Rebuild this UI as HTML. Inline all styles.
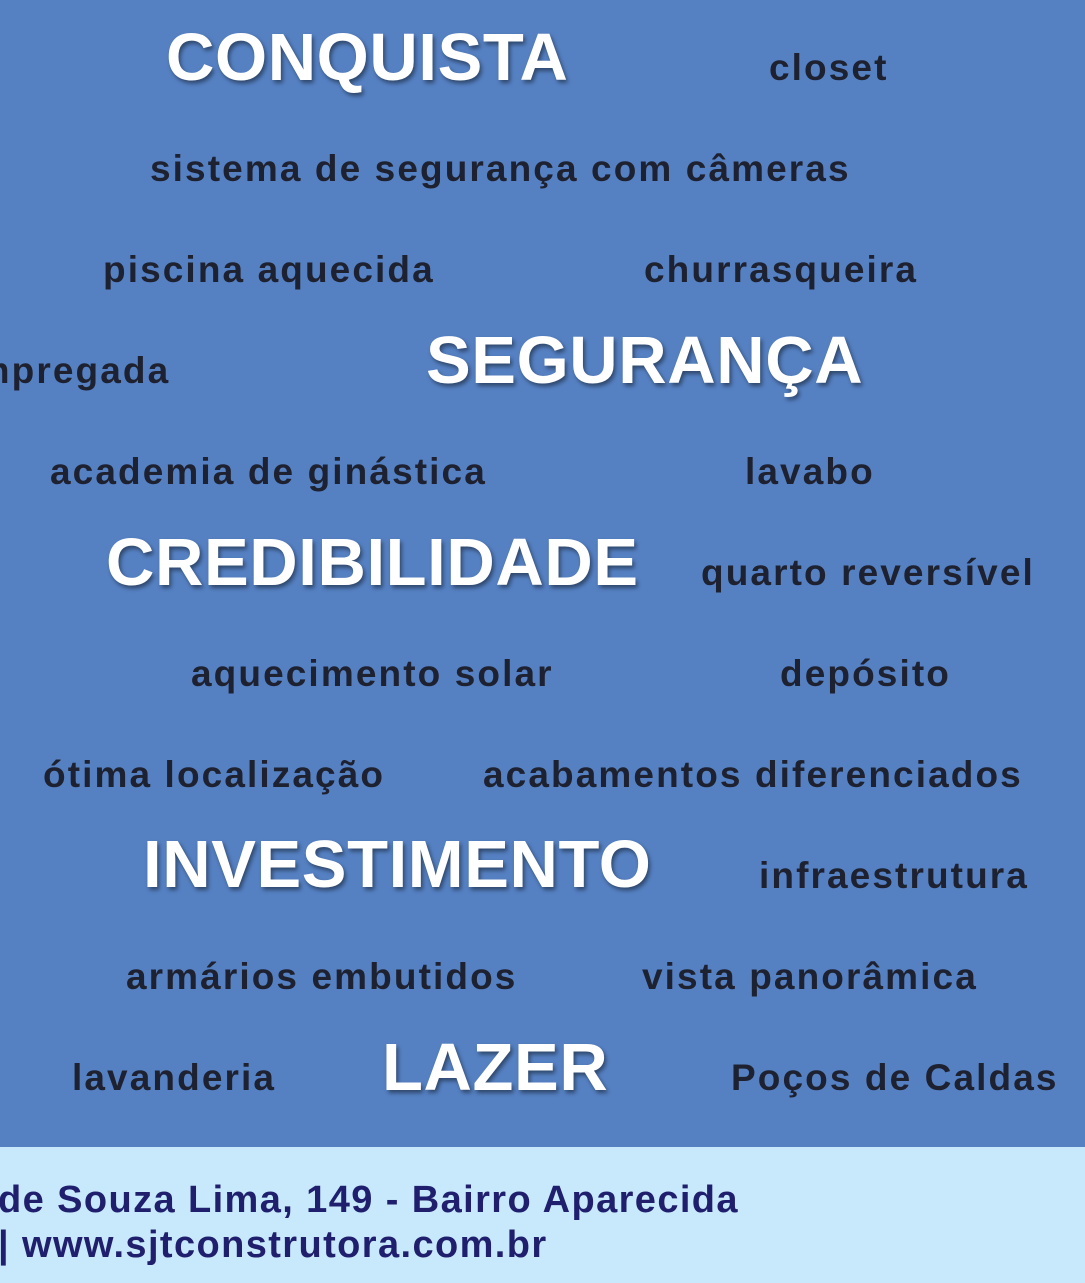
<!DOCTYPE html>
<html><head><meta charset="utf-8"><style>
html,body{margin:0;padding:0}
body{width:1085px;height:1283px;position:relative;overflow:hidden;background:#5581c3;font-family:"Liberation Sans",Arial,sans-serif;font-weight:bold}
.w{position:absolute;white-space:nowrap;line-height:1;font-size:37px;color:#1e2130;letter-spacing:2.1px}
.b{position:absolute;white-space:nowrap;line-height:1;font-size:67px;color:#fff;letter-spacing:0.6px;text-shadow:2px 3px 4px rgba(0,0,0,.45)}
#foot{position:absolute;left:0;top:1147px;width:1085px;height:136px;background:#c8e9fb}
.f{position:absolute;left:-2px;font-size:38px;color:#1f1f6e;line-height:1;white-space:nowrap;letter-spacing:1.4px}
</style></head><body>
<div class="b" style="left:166px;top:24px">CONQUISTA</div>
<div class="w" style="left:769px;top:49px">closet</div>
<div class="w" style="left:150px;top:150px">sistema de segurança com câmeras</div>
<div class="w" style="left:103px;top:251px">piscina aquecida</div>
<div class="w" style="left:644px;top:251px">churrasqueira</div>
<div class="w" style="left:-46px;top:352px">empregada</div>
<div class="b" style="left:426px;top:327px">SEGURANÇA</div>
<div class="w" style="left:50px;top:453px">academia de ginástica</div>
<div class="w" style="left:745px;top:453px">lavabo</div>
<div class="b" style="left:106px;top:529px">CREDIBILIDADE</div>
<div class="w" style="left:701px;top:554px">quarto reversível</div>
<div class="w" style="left:191px;top:655px">aquecimento solar</div>
<div class="w" style="left:780px;top:655px">depósito</div>
<div class="w" style="left:43px;top:756px">ótima localização</div>
<div class="w" style="left:483px;top:756px">acabamentos diferenciados</div>
<div class="b" style="left:143px;top:831px">INVESTIMENTO</div>
<div class="w" style="left:759px;top:857px">infraestrutura</div>
<div class="w" style="left:126px;top:958px">armários embutidos</div>
<div class="w" style="left:642px;top:958px">vista panorâmica</div>
<div class="w" style="left:72px;top:1059px">lavanderia</div>
<div class="b" style="left:382px;top:1034px">LAZER</div>
<div class="w" style="left:731px;top:1059px">Poços de Caldas</div>
<div id="foot">
<div class="f" style="top:34px">de Souza Lima, 149 - Bairro Aparecida</div>
<div class="f" style="top:79px">| www.sjtconstrutora.com.br</div>
</div>
</body></html>
